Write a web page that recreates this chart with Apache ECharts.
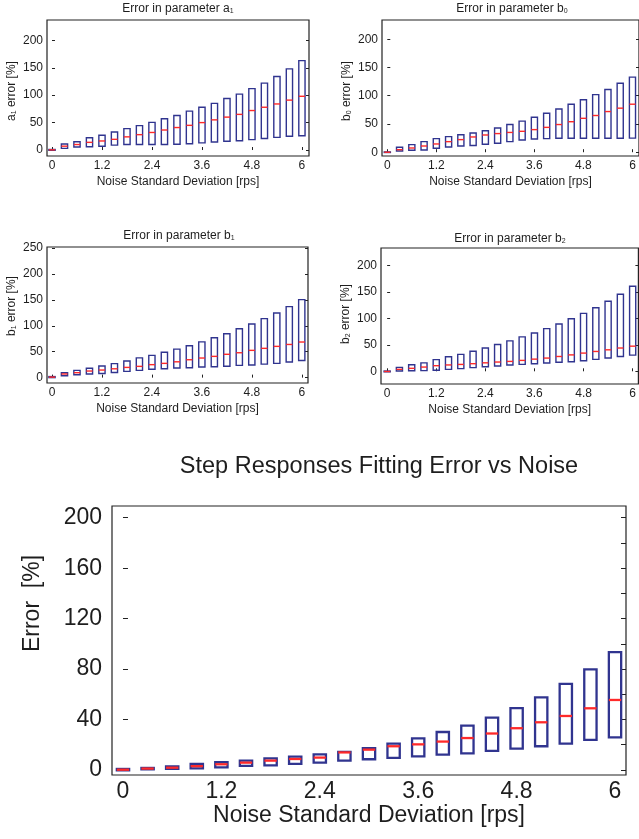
<!DOCTYPE html>
<html><head><meta charset="utf-8">
<script src="https://cdn.jsdelivr.net/npm/echarts@6/dist/echarts.min.js"></script>
<style>html,body{margin:0;padding:0;background:#fff;overflow:hidden}#c{width:639px;height:839px}</style>
</head><body><div id="c"></div>
<script>
// ---- data ----
const noise = [0, 0.3, 0.6, 0.9, 1.2, 1.5, 1.8, 2.1, 2.4, 2.7, 3.0, 3.3, 3.6, 3.9, 4.2, 4.5, 4.8, 5.1, 5.4, 5.7, 6.0];
const xTicks = [0, 1.2, 2.4, 3.6, 4.8, 6];
const yTicksSmall = [0, 50, 100, 150, 200];
const yTicksB1 = [0, 50, 100, 150, 200, 250];
const yTicksBig = [0, 40, 80, 120, 160, 200];
const yMinorBig = [0, 20, 40, 60, 80, 100, 120, 140, 160, 180, 200];

const a1Low  = [-0.5, 3, 5.5, 6, 7, 9, 10, 10, 10, 10, 10.5, 11.5, 13, 14.5, 16, 17, 19, 21, 23, 25, 26];
const a1High = [1, 11, 15, 22.5, 27, 33, 39, 44.5, 50.5, 57, 63, 71, 78, 85, 94, 102, 112, 122, 134, 148, 163];
const a1Med  = [0.3, 7, 10, 14, 16.5, 19.5, 24, 28, 32, 36.5, 41, 45, 50, 55, 60, 65, 72, 78, 84, 91, 98];

const b0Low  = [-0.5, 2.2, 3.4, 4, 7, 9.3, 11, 12, 14, 16, 18.7, 21.6, 23.4, 24, 24.6, 24.6, 24.6, 24.6, 24.6, 24.6, 25];
const b0High = [0.5, 8.7, 13.4, 18.7, 24, 27.6, 31, 34, 38, 43, 49, 55, 62, 69, 76.6, 85, 93, 102, 111, 122, 133];
const b0Med  = [0, 4.5, 7.5, 11, 14.6, 18.7, 22.3, 27, 30.5, 33, 35, 37, 40, 44, 49, 54, 60, 65, 72, 78, 85];

const b1Low  = [0, 3.7, 5.6, 7, 8, 10, 12, 14, 16, 17, 18.5, 19, 20.4, 21, 22, 23.6, 24.3, 26, 27.5, 30, 33];
const b1High = [2, 9.5, 14, 18, 22.3, 27, 32, 38, 43, 49, 55, 61.6, 69, 77, 84.8, 94.4, 103.5, 113.8, 124.7, 137, 150.6];
const b1Med  = [1, 7, 9.5, 12.7, 14.6, 17, 19.7, 21.7, 25, 27.5, 30.5, 34.5, 37.8, 41, 45, 48, 52.6, 56.5, 60.3, 64, 68.7];

const b2Low  = [-1, 0.5, 1, 1.2, 2, 3.7, 5, 7, 8.7, 10, 12, 13, 14.4, 15.6, 17, 18, 20, 22.5, 25, 28, 30.5];
const b2High = [0.5, 7.5, 12.5, 16, 22, 27.5, 32, 38, 44, 50.6, 57.5, 65, 72.5, 80.6, 89.4, 99.4, 109.4, 120, 132.5, 145.5, 160.6];
const b2Med  = [-0.3, 3.7, 5.6, 8, 10.6, 12, 13, 14.4, 16, 17.5, 18.7, 20.6, 23, 25, 28, 31, 34.4, 37.5, 40.6, 44, 47.5];

const stepLow  = [-0.3, 0.5, 0.8, 1.3, 2.1, 3.2, 3.7, 4.8, 5.8, 7.4, 8.5, 9.5, 10.8, 12.1, 13.2, 15.1, 16.9, 18.8, 20.9, 23.8, 25.9];
const stepHigh = [0.8, 1.6, 2.9, 4.8, 6.1, 7.4, 9.2, 10.6, 12.4, 14.3, 17.2, 20.9, 25.1, 30.1, 35.1, 41.5, 49.1, 57.6, 68.2, 79.8, 93.5];
const stepMed  = [0.2, 1.1, 1.8, 3.0, 4.5, 5.8, 7.4, 8.7, 9.8, 13.9, 16.1, 18.8, 20.3, 22.5, 25.3, 28.9, 33.1, 37.8, 42.8, 48.9, 55.5];

// ---- styling ----
const F = '"Liberation Sans", Arial, Helvetica, sans-serif';
const TXT = '#1e1e1e';
const BLUE = '#30348f';
const RED = '#ff2a2a';
const HALF = 0.075;

function rows(lo, hi, med) { return noise.map((x, i) => [x, lo[i], hi[i], med[i]]); }

function makeRender(lw) {
  return function (params, api) {
    const x = api.value(0), lo = api.value(1), hi = api.value(2), med = api.value(3);
    const p1 = api.coord([x - HALF, hi]);
    const p2 = api.coord([x + HALF, lo]);
    const pm = api.coord([x, med]);
    return {
      type: 'group',
      children: [
        { type: 'rect', shape: { x: p1[0], y: p1[1], width: p2[0] - p1[0], height: p2[1] - p1[1] },
          style: { fill: 'none', stroke: BLUE, lineWidth: lw } },
        { type: 'line', shape: { x1: p1[0], y1: pm[1], x2: p2[0], y2: pm[1] },
          style: { stroke: RED, lineWidth: lw } }
      ]
    };
  };
}

const grids = [
  { left: 47, top: 20, width: 262, height: 136 },
  { left: 382, top: 20, width: 262, height: 136 },
  { left: 47, top: 247, width: 261, height: 136 },
  { left: 381, top: 248, width: 262, height: 136 },
  { left: 112, top: 506, width: 514, height: 269 }
].map(g => Object.assign({ show: true, borderColor: '#222', borderWidth: 1.2, backgroundColor: 'transparent' }, g));

const xr = [[-0.12, 6.17], [-0.13, 6.16], [-0.12, 6.15], [-0.15, 6.14], [-0.134, 6.134]];
const yr = [[-10.9, 237.1], [-6.7, 234.1], [-10.4, 252.1], [-24, 233], [-4, 209.3]];
const yTickSets = [yTicksSmall, yTicksSmall, yTicksB1, yTicksSmall, yTicksBig];
const yNames = ['a{s|1} error [%]', 'b{s|0} error [%]', 'b{s|1} error [%]', 'b{s|2} error [%]', 'Error  [%]'];
// padding [top,right,bottom,left] to nudge the rotated names along the axis
const yNamePad = [[0, 6, 0, 0], [0, 6, 0, 0], [0, 0, 0, 18], [0, 0, 0, 4], [0, 0, 0, 74]];

const xAxes = [], yAxes = [];
for (let i = 0; i < 5; i++) {
  const big = i === 4;
  const fs = big ? 23 : 12;
  xAxes.push({
    type: 'value', gridIndex: i, min: xr[i][0], max: xr[i][1],
    name: 'Noise Standard Deviation [rps]', nameLocation: 'middle', nameGap: big ? 27 : 20,
    nameTextStyle: { fontFamily: F, fontSize: big ? 23 : 12, color: TXT },
    axisLine: { show: false },
    axisTick: { show: !big, inside: true, length: 3, customValues: xTicks, lineStyle: { color: '#222' } },
    axisLabel: { customValues: xTicks, fontFamily: F, fontSize: fs, color: TXT, margin: big ? 5 : 4 },
    splitLine: { show: false }
  });
  yAxes.push({
    type: 'value', gridIndex: i, min: yr[i][0], max: yr[i][1],
    name: yNames[i], nameLocation: 'middle', nameGap: big ? 68 : 29,
    nameTextStyle: { fontFamily: F, fontSize: big ? 23 : 12, color: TXT, padding: yNamePad[i],
      rich: { s: { fontFamily: F, fontSize: 7, color: TXT, padding: [6, 0, 0, 0] } } },
    axisLine: { show: false },
    axisTick: { show: true, inside: true, length: big ? 5 : 3, customValues: yTickSets[i], lineStyle: { color: '#222' } },
    axisLabel: { customValues: yTickSets[i], fontFamily: F, fontSize: fs, color: TXT, margin: big ? 10 : 4 },
    splitLine: { show: false }
  });
  // right-side tick marks
  yAxes.push({
    type: 'value', gridIndex: i, position: 'right', min: yr[i][0], max: yr[i][1],
    axisLine: { show: false },
    axisTick: { show: true, inside: true, length: big ? 5 : 3, customValues: big ? yMinorBig : yTickSets[i], lineStyle: { color: '#222' } },
    axisLabel: { show: false },
    splitLine: { show: false }
  });
}

const titleStyle = (fs) => ({ fontFamily: F, fontSize: fs, fontWeight: 'normal', color: TXT,
  rich: { s: { fontFamily: F, fontSize: 7, color: TXT, padding: [6, 0, 0, 0] } } });

const titles = [
  { text: 'Error in parameter a{s|1}', left: 178, top: 2, textAlign: 'center', textStyle: titleStyle(12) },
  { text: 'Error in parameter b{s|0}', left: 512, top: 2, textAlign: 'center', textStyle: titleStyle(12) },
  { text: 'Error in parameter b{s|1}', left: 179, top: 229, textAlign: 'center', textStyle: titleStyle(12) },
  { text: 'Error in parameter b{s|2}', left: 510, top: 232, textAlign: 'center', textStyle: titleStyle(12) },
  { text: 'Step Responses Fitting Error vs Noise', left: 379, top: 455, textAlign: 'center', textStyle: titleStyle(23.5) }
].map(t => Object.assign({ padding: 0 }, t));

const sets = [[a1Low, a1High, a1Med], [b0Low, b0High, b0Med], [b1Low, b1High, b1Med], [b2Low, b2High, b2Med], [stepLow, stepHigh, stepMed]];
const series = sets.map((s, i) => ({
  type: 'custom', xAxisIndex: i, yAxisIndex: i * 2,
  renderItem: makeRender(i === 4 ? 2.3 : 1.4),
  data: rows(s[0], s[1], s[2]),
  clip: false, silent: true
}));

const chart = echarts.init(document.getElementById('c'), null, { renderer: 'canvas' });
chart.setOption({
  animation: false,
  backgroundColor: '#fff',
  title: titles,
  grid: grids,
  xAxis: xAxes,
  yAxis: yAxes,
  series: series
});
</script>
</body></html>
